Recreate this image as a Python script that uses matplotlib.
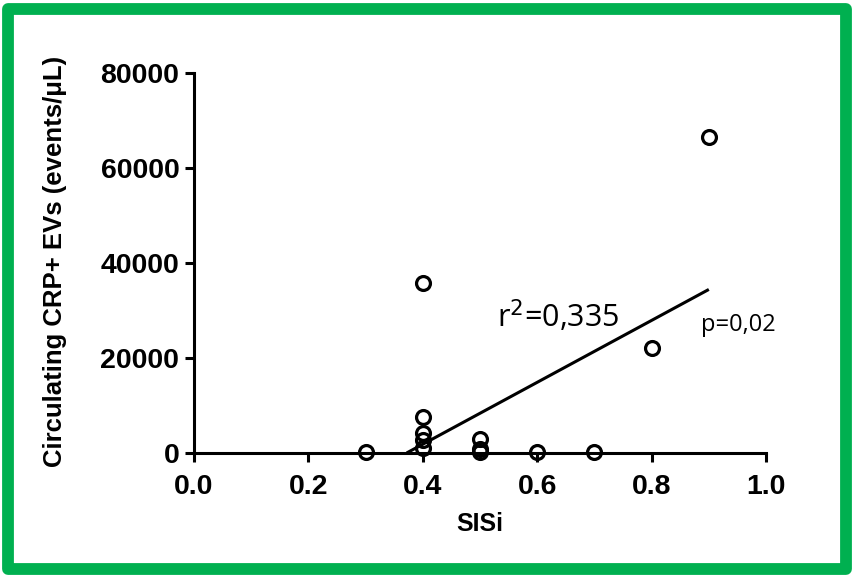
import numpy as np
import matplotlib
matplotlib.use("Agg")
import matplotlib.pyplot as plt
from matplotlib.patches import Rectangle

## Data
sisi = [0.3, 0.4, 0.4, 0.4, 0.4, 0.4, 0.5, 0.5, 0.5, 0.6, 0.7, 0.8, 0.9]
crp_evs = [300, 35800, 7500, 4300, 2800, 1000, 3000, 900, 100, 200, 200, 22000, 66400]

# regression line end points (as drawn in the reference)
fit_x = [0.372, 0.90]
fit_y = [0, 34400]

x_ticks = [0.0, 0.2, 0.4, 0.6, 0.8, 1.0]
y_ticks = [0, 20000, 40000, 60000, 80000]

plt.rcParams['font.family'] = ['Liberation Sans', 'DejaVu Sans']

fig = plt.figure(figsize=(8.54, 5.77), dpi=100)
ax = fig.add_axes([0.227, 0.215, 0.670, 0.659])

ax.plot(fit_x, fit_y, color='black', linewidth=2.2, solid_capstyle='butt')
ax.plot(sisi, crp_evs, linestyle='none', marker='o', markersize=10,
        markerfacecolor='none', markeredgecolor='black', markeredgewidth=2.3,
        clip_on=False, zorder=3)

ax.set_xlim(0, 1.0)
ax.set_ylim(0, 80000)
ax.set_xticks(x_ticks)
ax.set_xticklabels(["{:.1f}".format(v) for v in x_ticks])
ax.set_yticks(y_ticks)
ax.set_yticklabels([str(v) for v in y_ticks])

for side in ['top', 'right']:
    ax.spines[side].set_visible(False)
for side in ['left', 'bottom']:
    ax.spines[side].set_linewidth(2.2)
ax.tick_params(axis='both', direction='out', length=6.5, width=2.2,
               labelsize=20.5)
ax.tick_params(axis='y', pad=4)
ax.tick_params(axis='x', pad=9)
for lab in ax.get_xticklabels() + ax.get_yticklabels():
    lab.set_fontweight('bold')

ax.set_xlabel("SISi", fontsize=18, fontweight='bold')
ax.xaxis.set_label_coords(0.5, -0.155)
ax.set_ylabel("Circulating CRP+ EVs (events/\u03bcL)", fontsize=18.5,
              fontweight='bold')
ax.yaxis.set_label_coords(-0.222, 0.503)

ax.text(0.53, 26500, "r$^2$=0,335", fontsize=22, fontfamily='Open Sans',
        va='baseline')
ax.text(0.886, 25700, "p=0,02", fontsize=17, fontfamily='Open Sans',
        va='baseline')

## Green frame round the figure
fig.patches.append(Rectangle((0.009, 0.013), 0.982, 0.972, transform=fig.transFigure,
                             fill=False, edgecolor='#00B050', linewidth=8.5,
                             joinstyle='round'))

fig.savefig("out.png", dpi=100)
